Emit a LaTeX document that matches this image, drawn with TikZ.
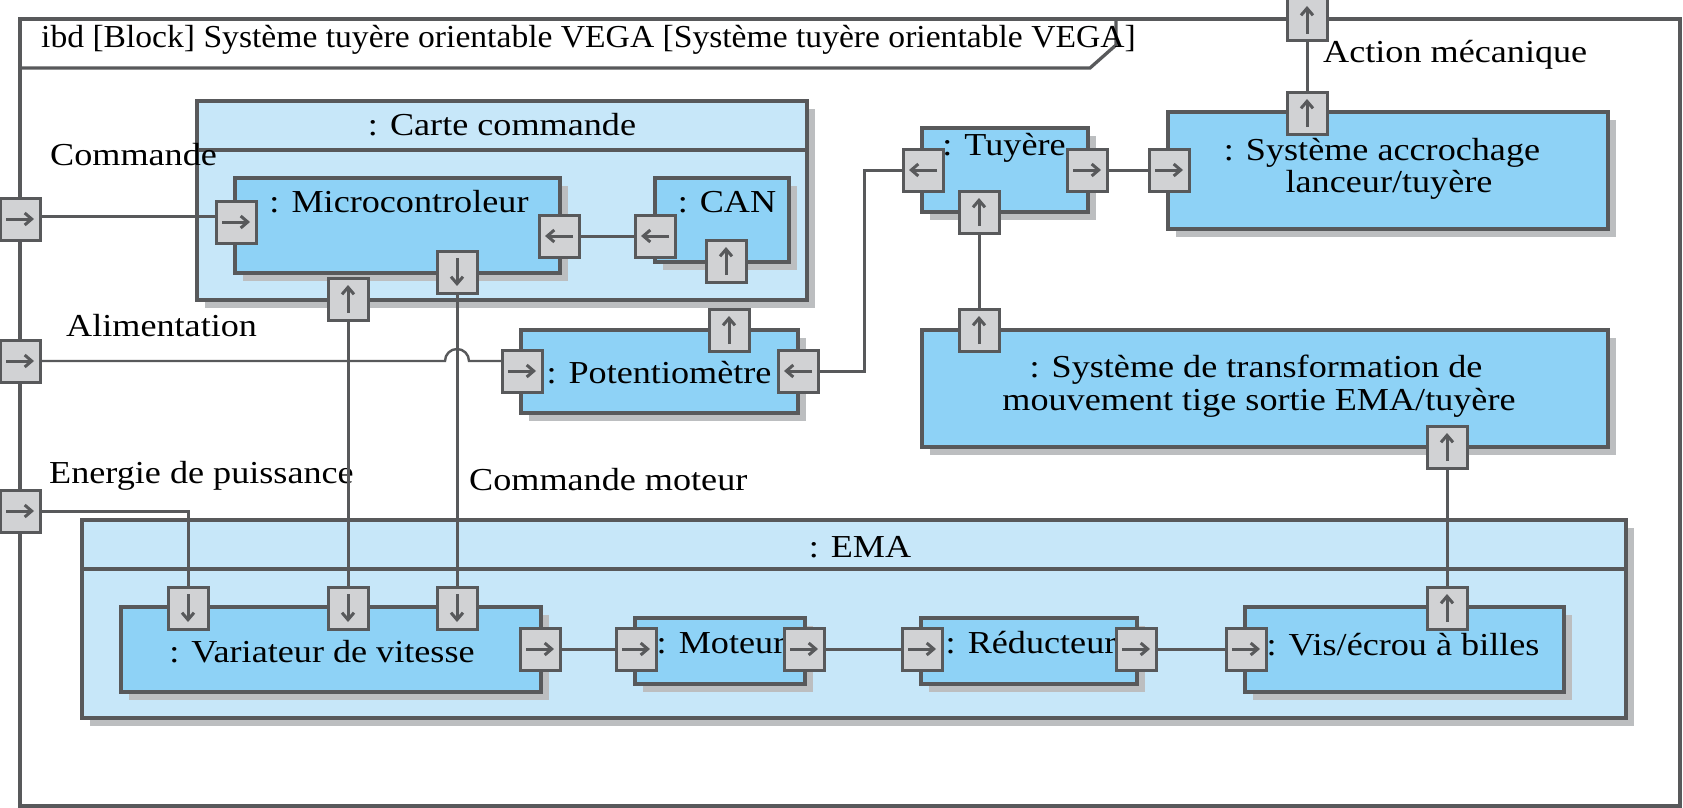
\documentclass[tikz,border=0pt]{standalone}
\usepackage{fontspec}
\setmainfont[FakeStretch=1.13]{Liberation Serif}
\newfontfamily\titlefont[FakeStretch=1.05]{Liberation Serif}
\usetikzlibrary{arrows.meta,shadows}
\definecolor{dk}{HTML}{58595B}
\definecolor{lb}{HTML}{C7E7F9}
\definecolor{mb}{HTML}{8ED2F6}
\definecolor{pg}{HTML}{D1D2D4}
\definecolor{sg}{HTML}{BCBEC0}
\tikzset{
  blockbox/.style={draw=dk, line width=3.3pt, fill=#1, inner sep=0pt, outer sep=0pt,
    drop shadow={shadow xshift=8pt, shadow yshift=-8pt, fill=sg, opacity=1}},
  framebox/.style={draw=dk, line width=3.3pt, inner sep=0pt, outer sep=0pt},
  port/.style={draw=dk, fill=pg, line width=3pt, rectangle, minimum width=40pt, minimum height=42pt, inner sep=0pt, outer sep=0pt},
  parr/.style={draw=dk, line width=3pt, -{Straight Barb[length=7pt,width=12pt]}},
  conn/.style={draw=dk, line width=3pt},
  thinconn/.style={draw=dk, line width=2.4pt},
  txt/.style={font=\fontsize{32pt}{33pt}\selectfont, inner sep=0pt, anchor=base, text=black},
  txtw/.style={txt, anchor=base west},
}
\newcommand\blk[6]{\node[blockbox=#2, minimum width={(#5-#3)*1pt}, minimum height={(#6-#4)*1pt}] (#1) at ({(#3+#5)/2},{(#4+#6)/2}) {};}
\newcommand\prt[4]{\node[port] (#1) at (#2,#3) {}; \draw[parr] (#1.center) ++({#4+180}:14pt) -- ++(#4:28pt);}
\begin{document}
\begin{tikzpicture}[x=1pt, y=-1pt]
\useasboundingbox (0,0) rectangle (1683,808);
% frame
\node[framebox, minimum width=1660pt, minimum height=787pt] (frame) at (850,412.5) {};
\draw[framebox] (frame.west |- 0,68) -- (1090,68) -- (1116,45) -- (1116,0 |- frame.north);
\node[txtw, font=\titlefont\fontsize{32pt}{33pt}\selectfont] (title) at (41,48) {ibd [Block] Système tuyère orientable VEGA [Système tuyère orientable VEGA]};
% outer blocks
\blk{carte}{lb}{197}{101}{807}{300}
\draw[framebox] (carte.west |- 0,150) -- (carte.east |- 0,150);
\blk{ema}{lb}{82}{520}{1626}{718}
\draw[framebox] (ema.west |- 0,569) -- (ema.east |- 0,569);
% inner blocks
\blk{micro}{mb}{235}{178}{560}{273}
\blk{can}{mb}{655}{178}{789}{262}
\blk{pot}{mb}{521}{330}{798}{413}
\blk{tuy}{mb}{922}{128}{1088}{212}
\blk{acc}{mb}{1168}{112}{1608}{229}
\blk{trans}{mb}{922}{330}{1608}{447}
\blk{var}{mb}{121}{607}{541}{692}
\blk{mot}{mb}{635}{618}{805}{684}
\blk{red}{mb}{921}{618}{1137}{684}
\blk{vis}{mb}{1245}{607}{1564}{692}
% texts
\node[txt] (tcarte) at (502,135) {: Carte commande};
\node[txt] (tmicro) at (399,212) {: Microcontroleur};
\node[txt] (tcan) at (727,212) {: CAN};
\node[txt] (tpot) at (659,383) {: Potentiomètre};
\node[txt] (ttuy) at (1004,155) {: Tuyère};
\node[txt] (tacc1) at (1382,160) {: Système accrochage};
\node[txt] (tacc2) at (1389,192) {lanceur/tuyère};
\node[txt] (ttr1) at (1256,377) {: Système de transformation de};
\node[txt] (ttr2) at (1259,410) {mouvement tige sortie EMA/tuyère};
\node[txt] (tema) at (860,557) {: EMA};
\node[txt] (tvar) at (322,662) {: Variateur de vitesse};
\node[txt] (tmot) at (721,653) {: Moteur};
\node[txt] (tred) at (1031,653) {: Réducteur};
\node[txt] (tvis) at (1403,655) {: Vis/écrou à billes};
\node[txtw] (lcmd) at (50,165) {Commande};
\node[txtw] (lalm) at (66,336) {Alimentation};
\node[txtw] (len) at (49,483) {Energie de puissance};
\node[txtw] (lcm) at (469,490) {Commande moteur};
\node[txtw] (lact) at (1323,63) {Action mécanique};
% ports
\prt{cmd}{20}{219}{0}
\prt{alm}{20}{361}{0}
\prt{en}{20}{511}{0}
\prt{ftop}{1307}{20}{90}
\prt{mcin}{236}{222}{0}
\prt{mcout}{559}{236}{180}
\prt{canin}{655}{236}{180}
\prt{canb}{726}{261}{90}
\prt{mcb}{457}{272}{270}
\prt{cb}{348}{299}{90}
\prt{potT}{729}{330}{90}
\prt{potL}{522}{371}{0}
\prt{potR}{798}{371}{180}
\prt{tuyL}{923}{170}{180}
\prt{tuyR}{1087}{170}{0}
\prt{tuyB}{979}{212}{90}
\prt{acL}{1169}{170}{0}
\prt{acT}{1307}{113}{90}
\prt{stT}{979}{330}{90}
\prt{stB}{1447}{447}{90}
\prt{v1}{188}{608}{270}
\prt{v2}{348}{608}{270}
\prt{v3}{457}{608}{270}
\prt{vR}{540}{649}{0}
\prt{moL}{636}{649}{0}
\prt{moR}{804}{649}{0}
\prt{reL}{922}{649}{0}
\prt{reR}{1136}{649}{0}
\prt{viL}{1246}{649}{0}
\prt{viT}{1447}{608}{90}
% connectors
\draw[conn] (cmd.east |- 0,216) -- (mcin.west |- 0,216);
\draw[conn] (mcout) -- (canin);
\draw[conn] (mcb) -- (v3);
\draw[conn] (cb) -- (v2);
\coordinate (hopL) at (445,361);
\draw[thinconn] (alm.east) -- (hopL) arc[start angle=180, end angle=360, radius=12] -- (potL.west |- alm.east);
\draw[conn] (potR.east) -- ++(46,0) |- (tuyL.west);
\draw[conn] (tuyR) -- (acL);
\draw[conn] (acT) -- (ftop);
\draw[conn] (tuyB) -- (stT);
\draw[conn] (stB) -- (viT);
\draw[conn] (en.east) -| (v1.north);
\draw[conn] (vR) -- (moL);
\draw[conn] (moR) -- (reL);
\draw[conn] (reR) -- (viL);
\end{tikzpicture}
\end{document}
